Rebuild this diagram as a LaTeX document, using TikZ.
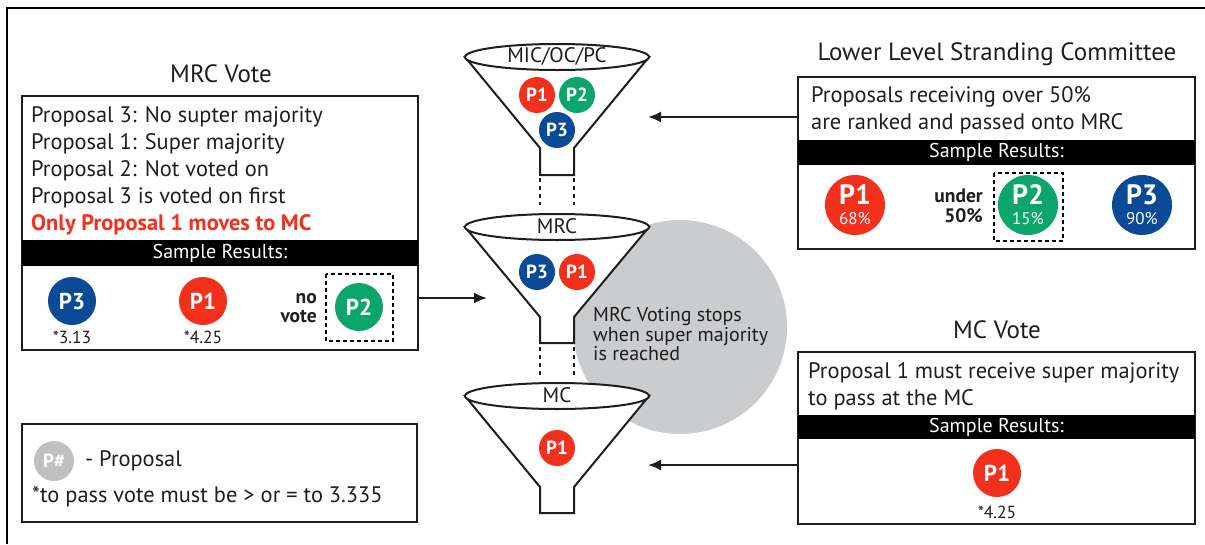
\documentclass[tikz,border=0pt]{standalone}
\usepackage{fontspec}
\setmainfont{PT Sans}
\usetikzlibrary{arrows.meta}
\definecolor{pred}{RGB}{242,48,27}
\definecolor{pgreen}{RGB}{12,166,106}
\definecolor{pblue}{RGB}{10,74,150}
\definecolor{cgray}{RGB}{203,204,206}
\definecolor{lgray}{RGB}{192,192,192}
\definecolor{txt}{RGB}{30,30,30}
\begin{document}
\begin{tikzpicture}[x=1pt,y=-1pt,
  box/.style={draw=txt, line width=2pt, fill=white, inner sep=0pt},
  bar/.style={fill=black, text=white, inner sep=0pt, font=\fontsize{20}{22}\selectfont},
  ttl/.style={font=\fontsize{25}{27}\selectfont, text=txt},
  body/.style={font=\fontsize{22.4}{27}\selectfont, text=txt, align=left, inner sep=0pt},
  pc/.style={circle, inner sep=0pt, text=white, font=\bfseries\fontsize{#1}{#1}\selectfont},
  psm/.style={pc=19, minimum size=36pt},
  pmd/.style={pc=23, minimum size=48pt},
  plg/.style={circle, inner sep=0pt, text=white, minimum size=60pt, align=center, font=\fontsize{17}{20}\selectfont},
  small/.style={font=\fontsize{17.5}{19}\selectfont, text=txt, inner sep=0pt},
  lab/.style={font=\bfseries\fontsize{19.5}{19.5}\selectfont, text=txt, align=right, inner sep=0pt},
  dbox/.style={draw=black, line width=1.6pt, dash pattern=on 4pt off 3pt},
  arr/.style={line width=2pt, draw=txt, -{Latex[length=13pt,width=11pt]}},
  fun/.style={draw=txt, line width=2pt, fill=white, line join=miter},
  dots/.style={draw=txt, line width=2pt, dash pattern=on 4pt off 4pt}
]
\useasboundingbox (0,0) rectangle (1205,544);
% outer frame
\draw[line width=2pt] (7,544) -- (7,8) -- (1205,8);

% gray circle
\fill[cgray] (680,327) circle[radius=107pt];

% funnels
\foreach \cy/\nt/\nb in {57/148/175, 227/317/343, 396/487/513}{
  \path[fun] (557-92,\cy) -- (540,\nt) -- (540,\nb) -- (574,\nb) -- (574,\nt) -- (557+92,\cy) -- cycle;
  \path[fun] (557,\cy) ellipse[x radius=92pt, y radius=13pt];
}
\draw[dots] (540,178) -- (540,205);
\draw[dots] (574,178) -- (574,205);
\draw[dots] (540,347) -- (540,375);
\draw[dots] (574,347) -- (574,375);

\node[font=\fontsize{21}{22}\selectfont, text=txt] (f1) at (557,56) {MIC/OC/PC};
\node[font=\fontsize{21}{22}\selectfont, text=txt] (f2) at (557,226) {MRC};
\node[font=\fontsize{21}{22}\selectfont, text=txt] (f3) at (557,395) {MC};

\node[psm, fill=pred] (fa1) at (537,95) {P1};
\node[psm, fill=pgreen] (fa2) at (577,95) {P2};
\node[psm, fill=pblue] (fa3) at (557,130) {P3};
\node[psm, fill=pblue] (fb3) at (537,272) {P3};
\node[psm, fill=pred] (fb1) at (577,272) {P1};
\node[psm, fill=pred] (fc1) at (557,448) {P1};

\node[anchor=west, font=\fontsize{20}{19.5}\selectfont, text=txt, align=left, inner sep=0pt] (stop) at (593,334) {MRC Voting stops\\when super majority\\is reached};

% MRC vote
\node[ttl] (mrcttl) at (221,74) {MRC Vote};
\node[box, minimum width=396pt, minimum height=254pt] (mrcbox) at (220,223) {};
\node[body, anchor=west] (mrctxt) at (31,171) {Proposal 3: No supter majority\\Proposal 1: Super majority\\Proposal 2: Not voted on\\Proposal 3 is voted on first\\{\color{pred}\bfseries Only Proposal 1 moves to MC}};
\node[bar, minimum width=396pt, minimum height=26pt] (mrcbar) at (220,253) {Sample Results:};
\node[pmd, fill=pblue] (m3) at (72,301) {P3};
\node[small] (m3v) at (72,337) {*3.13};
\node[pmd, fill=pred] (m1) at (203,301) {P1};
\node[small] (m1v) at (203,337) {*4.25};
\node[lab, anchor=east] (novote) at (317,308) {no\\vote};
\draw[dbox] (326,274) rectangle (393,341);
\node[pmd, fill=pgreen] (m2) at (359,307) {P2};

% legend
\node[box, minimum width=395pt, minimum height=98pt] (leg) at (219.5,473) {};
\node[circle, fill=lgray, minimum size=40pt, inner sep=0pt, text=white, font=\bfseries\fontsize{19}{19}\selectfont] (pl) at (54,461) {P\#};
\node[body, anchor=west] (pltxt) at (85,461) {- Proposal};
\node[body, anchor=west] (note) at (32,497) {*to pass vote must be > or = to 3.335};

% LLSC
\node[ttl] (lttl) at (997,54) {Lower Level Stranding Committee};
\node[box, minimum width=397pt, minimum height=172pt] (lbox) at (996.5,163) {};
\node[body, anchor=west] (ltxt) at (811,110) {Proposals receiving over 50\%\\are ranked and passed onto MRC};
\node[bar, minimum width=397pt, minimum height=25pt] (lbar) at (996.5,152.5) {Sample Results:};
\node[plg, fill=pred] (l1) at (855,205) {{\bfseries\fontsize{28}{28}\selectfont P1}\\68\%};
\node[lab, anchor=east] (under) at (983,206) {under\\50\%};
\draw[dbox] (994,173) rectangle (1063,241);
\node[plg, fill=pgreen] (l2) at (1028,205) {{\bfseries\fontsize{28}{28}\selectfont P2}\\15\%};
\node[plg, fill=pblue] (l3) at (1142,205) {{\bfseries\fontsize{28}{28}\selectfont P3}\\90\%};

% MC vote
\node[ttl] (mcttl) at (997,330) {MC Vote};
\node[box, minimum width=397pt, minimum height=172pt] (mcbox) at (996.5,438) {};
\node[body, anchor=west] (mctxt) at (808,386) {Proposal 1 must receive super majority\\to pass at the MC};
\node[bar, minimum width=397pt, minimum height=24pt] (mcbar) at (996.5,427) {Sample Results:};
\node[pmd, fill=pred] (mc1) at (997,473) {P1};
\node[small] (mc1v) at (997,512) {*4.25};

% arrows
\coordinate (mrcin) at (487,298);
\coordinate (topin) at (648,117);
\coordinate (mcin) at (648,465);
\draw[arr] (mrcbox.east |- mrcin) -- (mrcin);
\draw[arr] (lbox.west |- topin) -- (topin);
\draw[arr] (mcbox.west |- mcin) -- (mcin);
\end{tikzpicture}
\end{document}
